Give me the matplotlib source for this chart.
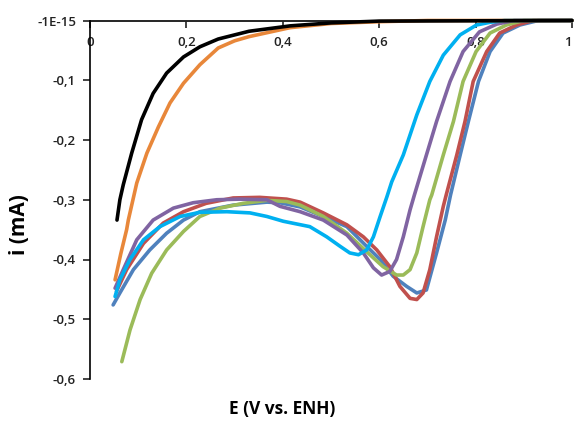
import matplotlib
matplotlib.use("Agg")
import matplotlib.pyplot as plt
from matplotlib.ticker import FixedLocator, FixedFormatter

# ---- data ----
black_x = [0.056, 0.062, 0.069, 0.0865, 0.107, 0.131, 0.159, 0.194, 0.228, 0.266, 0.330, 0.415, 0.500, 0.600, 1.000]
black_y = [-0.334, -0.300, -0.275, -0.222, -0.166, -0.122, -0.088, -0.061, -0.044, -0.031, -0.018, -0.009, -0.004, -0.001, 0.000]

orange_x = [0.052, 0.064, 0.076, 0.0795, 0.097, 0.118, 0.142, 0.166, 0.194, 0.228, 0.266, 0.300, 0.330, 0.415, 0.500, 0.600, 0.700, 1.000]
orange_y = [-0.434, -0.390, -0.350, -0.334, -0.272, -0.222, -0.178, -0.138, -0.105, -0.074, -0.046, -0.034, -0.027, -0.012, -0.005, -0.002, 0.000, 0.000]

blue_x = [0.048, 0.062, 0.090, 0.124, 0.159, 0.194, 0.228, 0.297, 0.367, 0.394, 0.436, 0.484, 0.533, 0.574, 0.602, 0.629, 0.657, 0.678, 0.698, 0.719, 0.737, 0.748, 0.768, 0.785, 0.806, 0.830, 0.857, 0.892, 0.930, 1.000]
blue_y = [-0.476, -0.456, -0.417, -0.384, -0.356, -0.334, -0.320, -0.309, -0.304, -0.305, -0.312, -0.328, -0.345, -0.378, -0.400, -0.428, -0.445, -0.456, -0.451, -0.389, -0.334, -0.292, -0.225, -0.169, -0.102, -0.052, -0.021, -0.0075, 0.000, 0.000]

red_x = [0.055, 0.076, 0.111, 0.152, 0.194, 0.241, 0.297, 0.352, 0.408, 0.436, 0.484, 0.533, 0.567, 0.595, 0.622, 0.643, 0.664, 0.678, 0.691, 0.705, 0.719, 0.733, 0.739, 0.761, 0.778, 0.795, 0.823, 0.850, 0.885, 0.920, 1.000]
red_y = [-0.453, -0.417, -0.373, -0.339, -0.320, -0.306, -0.297, -0.296, -0.299, -0.304, -0.322, -0.342, -0.362, -0.384, -0.412, -0.445, -0.465, -0.467, -0.456, -0.417, -0.362, -0.311, -0.292, -0.225, -0.169, -0.102, -0.052, -0.021, -0.0075, 0.000, 0.000]

green_x = [0.066, 0.083, 0.104, 0.128, 0.159, 0.194, 0.228, 0.270, 0.318, 0.367, 0.408, 0.436, 0.484, 0.533, 0.574, 0.608, 0.636, 0.650, 0.664, 0.678, 0.691, 0.705, 0.709, 0.733, 0.754, 0.774, 0.801, 0.830, 0.864, 0.900, 1.000]
green_y = [-0.571, -0.518, -0.467, -0.423, -0.384, -0.353, -0.328, -0.314, -0.306, -0.301, -0.303, -0.309, -0.328, -0.356, -0.387, -0.412, -0.426, -0.426, -0.417, -0.389, -0.345, -0.300, -0.292, -0.225, -0.169, -0.102, -0.052, -0.021, -0.0075, 0.000, 0.000]

purple_x = [0.052, 0.069, 0.097, 0.131, 0.173, 0.214, 0.263, 0.310, 0.367, 0.394, 0.422, 0.436, 0.484, 0.533, 0.567, 0.588, 0.605, 0.622, 0.636, 0.650, 0.664, 0.673, 0.698, 0.719, 0.747, 0.774, 0.808, 0.844, 0.880, 1.000]
purple_y = [-0.448, -0.417, -0.367, -0.334, -0.314, -0.305, -0.300, -0.299, -0.300, -0.311, -0.317, -0.320, -0.334, -0.359, -0.389, -0.414, -0.426, -0.420, -0.400, -0.362, -0.317, -0.292, -0.225, -0.169, -0.102, -0.052, -0.019, -0.006, 0.000, 0.000]

cyan_x = [0.052, 0.062, 0.083, 0.111, 0.145, 0.187, 0.228, 0.284, 0.332, 0.367, 0.401, 0.456, 0.491, 0.519, 0.539, 0.557, 0.574, 0.588, 0.602, 0.616, 0.626, 0.650, 0.678, 0.705, 0.733, 0.768, 0.802, 0.830, 0.860, 1.000]
cyan_y = [-0.462, -0.434, -0.400, -0.367, -0.345, -0.328, -0.321, -0.320, -0.322, -0.328, -0.336, -0.345, -0.362, -0.378, -0.389, -0.392, -0.384, -0.362, -0.328, -0.295, -0.270, -0.225, -0.158, -0.102, -0.058, -0.024, -0.0075, -0.003, 0.000, 0.000]

x_ticks = [0, 0.2, 0.4, 0.6, 0.8, 1.0]
x_tick_labels = ["0", "0,2", "0,4", "0,6", "0,8", "1"]
y_ticks = [0, -0.1, -0.2, -0.3, -0.4, -0.5, -0.6]
y_tick_labels = ["-1E-15", "-0,1", "-0,2", "-0,3", "-0,4", "-0,5", "-0,6"]

plt.rcParams['font.family'] = ['Open Sans', 'DejaVu Sans']

fig = plt.figure(figsize=(5.74, 4.21), dpi=100)
W, H = 574, 421
ax = fig.add_axes([90 / W, 1 - 379 / H, (572 - 90) / W, (379 - 20.5) / H])

lw = 2.6
series = [
    (blue_x, blue_y, "#4F81BD"),
    (red_x, red_y, "#C0504D"),
    (green_x, green_y, "#9BBB59"),
    (purple_x, purple_y, "#8064A2"),
    (cyan_x, cyan_y, "#00B0F0"),
    (orange_x, orange_y, "#E8873A"),
    (black_x, black_y, "#000000"),
]
for xs, ys, c in series:
    ax.plot(xs, ys, color=c, lw=lw, solid_joinstyle='round', solid_capstyle='round', clip_on=False)

ax.set_xlim(0, 1)
ax.set_ylim(-0.6, 0)

for s in ['right', 'top']:
    ax.spines[s].set_visible(False)
ax.spines['bottom'].set_position(('data', 0))
ax.spines['bottom'].set_zorder(0)
ax.spines['left'].set_linewidth(1.2)
ax.spines['bottom'].set_linewidth(1.2)

ax.xaxis.set_major_locator(FixedLocator(x_ticks))
ax.xaxis.set_major_formatter(FixedFormatter(x_tick_labels))
ax.yaxis.set_major_locator(FixedLocator(y_ticks))
ax.yaxis.set_major_formatter(FixedFormatter(y_tick_labels))
ax.tick_params(axis='both', direction='out', length=5, width=1.2, labelsize=9.5, colors='#222222')
ax.tick_params(axis='x', pad=6)
ax.tick_params(axis='y', pad=5)
for lab in ax.get_xticklabels() + ax.get_yticklabels():
    lab.set_fontweight('semibold')
ax.get_xticklabels()[-1].set_horizontalalignment('right')

ax.set_xlabel("E (V vs. ENH)", fontsize=12.5, fontweight='bold')
ax.xaxis.set_label_coords(0.398, -0.058)
ax.set_ylabel("i (mA)", fontsize=15, fontweight='bold')
ax.yaxis.set_label_coords(-0.125, 0.43)

fig.savefig("out.png", dpi=100)
